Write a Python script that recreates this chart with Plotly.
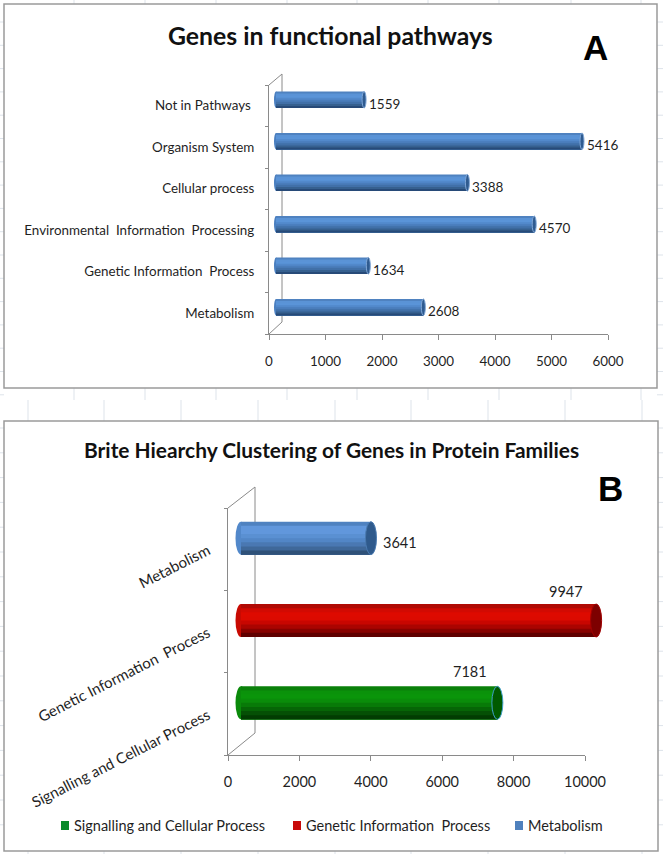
import plotly.graph_objects as go

# ---------- data ----------
pathway_categories = ["Metabolism", "Genetic Information\u00a0 Process", "Environmental\u00a0 Information\u00a0 Processing",
                      "Cellular process", "Organism System", "Not in Pathways\u00a0"]
pathway_values = [2608, 1634, 4570, 3388, 5416, 1559]
brite_categories = ["Signalling and Cellular Process", "Genetic Information\u00a0 Process", "Metabolism"]
brite_values = [7181, 9947, 3641]
a_ticks = [0, 1000, 2000, 3000, 4000, 5000, 6000]
b_ticks = [0, 2000, 4000, 6000, 8000, 10000]

W, H = 663, 854
FONT = "Lato"
TXT = "#1f1f1f"
AXIS = "#8a8a8a"

def px(x): return x / W
def py(y): return 1 - y / H

# gradient bands, top of the cylinder to its bottom
BLUE_A = ["#4f82c0", "#5a93d6", "#5a94d8", "#5289cb", "#4a7dbb", "#4170a8", "#36608f", "#274a78"]
BLUE_B = ["#4f82c0", "#6197dc", "#6197dc", "#5a90d2", "#5286c6", "#4a78b2", "#3f6899", "#2f5178"]
RED = ["#b00a04", "#d20a02", "#de0a00", "#dc0a00", "#c80600", "#aa0400", "#880200", "#600000"]
GREEN = ["#0a800a", "#0a920a", "#0a950a", "#0a8c0a", "#087a08", "#066506", "#055005", "#023c02"]

fig = go.Figure()

def cylinder(xa, ya, values, cats, palettes, width):
    for v, c, pal in zip(values, cats, palettes):
        n = len(pal)
        for k, col in enumerate(pal):
            # each slice runs from its own top edge down to the bottom, so later slices overpaint without seams
            w = width * (n - k) / n
            fig.add_trace(go.Bar(
                x=[v], y=[c], orientation="h", xaxis=xa, yaxis=ya,
                width=w, offset=-width / 2,
                marker=dict(color=col, line=dict(width=0)),
                name=c, showlegend=False, hoverinfo="skip",
            ))

def invisible(xa, ya, values, cats):
    fig.add_trace(go.Scatter(x=values, y=cats, xaxis=xa, yaxis=ya, mode="markers",
                             marker=dict(opacity=0, size=1), showlegend=False, hoverinfo="skip"))

# panel A
invisible("x", "y", pathway_values, pathway_categories)
cylinder("x2", "y2", pathway_values, pathway_categories, [BLUE_A] * 6, 0.40)

# panel B
invisible("x3", "y3", brite_values, brite_categories)
cylinder("x4", "y4", brite_values, brite_categories, [GREEN, RED, BLUE_B], 0.40)

shapes = []

# faint worksheet gridlines behind the panels
GRID = "#dde3ea"
for x in [74, 145, 216, 287, 357, 428, 499, 571, 641]:
    shapes.append(dict(type="line", xref="paper", yref="paper", x0=px(x), x1=px(x), y0=py(0), y1=py(400),
                       line=dict(color=GRID, width=1), layer="below"))
for x in [28, 104, 181, 258, 335, 411, 488, 565, 642]:
    shapes.append(dict(type="line", xref="paper", yref="paper", x0=px(x), x1=px(x), y0=py(400), y1=py(854),
                       line=dict(color=GRID, width=1), layer="below"))
for i in range(17):
    y = 22 + i * 23.3
    for a, b in [(0, 4), (657, 663)]:
        shapes.append(dict(type="line", xref="paper", yref="paper", x0=px(a), x1=px(b), y0=py(y), y1=py(y),
                           line=dict(color=GRID, width=1), layer="below"))
for i in range(17):
    y = 428 + i * 24.8
    for a, b in [(0, 4), (658, 663)]:
        shapes.append(dict(type="line", xref="paper", yref="paper", x0=px(a), x1=px(b), y0=py(y), y1=py(y),
                           line=dict(color=GRID, width=1), layer="below"))

# panel frames
for x0, y0, x1, y1 in [(4, 4, 657, 388), (4, 421, 658, 851)]:
    shapes.append(dict(type="rect", xref="paper", yref="paper", x0=px(x0), x1=px(x1), y0=py(y0), y1=py(y1),
                       line=dict(color="#9a9a9a", width=1.5), fillcolor="white", layer="below"))

# 3-D side wall outlines
for fx, fb, ft, bx, bb, bt in [(269, 334, 85, 282, 322, 74), (228, 755, 508, 255, 733, 487)]:
    for p, q in [((fx, fb), (bx, bb)), ((bx, bb), (bx, bt)), ((bx, bt), (fx, ft))]:
        shapes.append(dict(type="line", xref="paper", yref="paper", x0=px(p[0]), y0=py(p[1]), x1=px(q[0]), y1=py(q[1]),
                           line=dict(color=AXIS, width=1), layer="below"))

# cylinder end caps, anchored on the values
def caps(xa, ya, values, hw, hh, mids, ends, edges):
    for i, v in enumerate(values):
        shapes.append(dict(type="circle", xref=xa, yref=ya, xsizemode="pixel", ysizemode="pixel",
                           xanchor=0, yanchor=i, x0=-hw, x1=hw, y0=-hh, y1=hh,
                           fillcolor=mids[i], line=dict(width=0), layer="below"))
        shapes.append(dict(type="circle", xref=xa, yref=ya, xsizemode="pixel", ysizemode="pixel",
                           xanchor=v, yanchor=i, x0=-hw, x1=hw, y0=-hh, y1=hh,
                           fillcolor=ends[i], line=dict(color=edges[i], width=1), layer="above"))

caps("x2", "y2", pathway_values, 2, 8.3, ["#4a7fc0"] * 6, ["#2f5b90"] * 6, ["#7fa6d6"] * 6)
caps("x4", "y4", brite_values, 5.5, 16.5,
     ["#0a8a0a", "#c80a02", "#5288ca"], ["#005a00", "#7d0000", "#2f5a8c"], ["#3f9fc8", "#a00000", "#4a7ab0"])

# ---------- annotations ----------
ann = []
for v, c in zip(pathway_values, pathway_categories):
    ann.append(dict(x=v, y=c, xref="x2", yref="y2", text=str(v), showarrow=False, xanchor="left",
                    xshift=3, yshift=-4, font=dict(family=FONT, size=13.5, color=TXT)))
b_shift = [(-27, 31), (-30, 29), (29, -4)]
for v, c, (dx, dy) in zip(brite_values, brite_categories, b_shift):
    ann.append(dict(x=v, y=c, xref="x4", yref="y4", text=str(v), showarrow=False, xanchor="center",
                    xshift=dx, yshift=dy, font=dict(family=FONT, size=14.5, color=TXT)))

def text(x, y, s, size, family=FONT, bold=True, color="#111111"):
    ann.append(dict(x=px(x), y=py(y), xref="paper", yref="paper", text=f"<b>{s}</b>" if bold else s,
                    showarrow=False, xanchor="center", yanchor="middle",
                    font=dict(family=family, size=size, color=color)))

text(330, 35, "Genes in functional pathways", 24.8)
text(331, 449, "Brite Hiearchy Clustering of Genes in Protein Families", 20.9)
text(595, 48, "A", 35, family="Liberation Sans", color="black")
text(610, 488, "B", 35, family="Liberation Sans", color="black")

# legend of panel B
for c, col, sx in zip(brite_categories, ["#0a8a2a", "#c80a0a", "#4f81bd"], [61, 293, 515]):
    shapes.append(dict(type="rect", xref="paper", yref="paper", x0=px(sx), x1=px(sx + 8),
                       y0=py(830), y1=py(821), fillcolor=col, line=dict(width=0), layer="above"))
    ann.append(dict(x=px(sx + 11), y=py(825.5), xref="paper", yref="paper", text=c, showarrow=False,
                    xanchor="left", yanchor="middle", font=dict(family=FONT, size=14.5, color=TXT)))

tickfont_a = dict(family=FONT, size=13.4, color=TXT)
tickfont_b = dict(family=FONT, size=14.5, color=TXT)
tickfont_bc = dict(family=FONT, size=15, color=TXT)
common_x = dict(showgrid=False, zeroline=False, showline=True, linecolor=AXIS, linewidth=1, ticks="outside",
                ticklen=5, tickcolor=AXIS, fixedrange=True, tickformat="d", automargin=False)
common_y = dict(showgrid=False, zeroline=False, showline=True, linecolor=AXIS, linewidth=1, ticks="outside",
                ticklen=3, tickcolor=AXIS, fixedrange=True, type="category", tickson="boundaries", automargin=False)
hidden = dict(visible=False, fixedrange=True, automargin=False)

# bar axes share the scale of the visible value axis, shifted for depth and padded so caps are not clipped
def padded(x0_px, x1_px, maxval, pad):
    per_px = maxval / (x1_px - x0_px)
    return dict(domain=[px(x0_px - pad), px(x1_px + pad)], range=[-pad * per_px, maxval + pad * per_px])

fig.update_layout(
    width=W, height=H, margin=dict(l=0, r=0, t=0, b=0, pad=0), autosize=False,
    paper_bgcolor="white", plot_bgcolor="rgba(0,0,0,0)",
    barmode="overlay", showlegend=False,
    annotations=ann, shapes=shapes,
    xaxis=dict(domain=[px(269), px(608)], range=[0, 6000], tickvals=a_ticks, anchor="y",
               ticklabelstandoff=10, tickfont=tickfont_a, **common_x),
    yaxis=dict(domain=[py(334), py(85)], range=[-0.5, 5.5], categoryorder="array",
               categoryarray=pathway_categories, anchor="x", ticklabelstandoff=11, tickfont=tickfont_a, **common_y),
    xaxis2=dict(anchor="y2", **padded(276, 615, 6000, 20), **hidden),
    yaxis2=dict(domain=[py(328), py(79)], range=[-0.5, 5.5], type="category", categoryorder="array",
                categoryarray=pathway_categories, anchor="x2", **hidden),
    xaxis3=dict(domain=[px(228), px(585)], range=[0, 10000], tickvals=b_ticks, anchor="y3",
                ticklabelstandoff=9, tickfont=tickfont_b, **common_x),
    yaxis3=dict(domain=[py(755), py(508)], range=[-0.5, 2.5], categoryorder="array",
                categoryarray=brite_categories, anchor="x3", tickangle=-27, ticklabelstandoff=16,
                tickfont=tickfont_bc, **common_y),
    xaxis4=dict(anchor="y4", **padded(241, 598, 10000, 20), **hidden),
    yaxis4=dict(domain=[py(744), py(497)], range=[-0.5, 2.5], type="category", categoryorder="array",
                categoryarray=brite_categories, anchor="x4", **hidden),
)

fig.write_html("out.html", config={"displayModeBar": False},
               post_script="document.body.style.margin='0';")
